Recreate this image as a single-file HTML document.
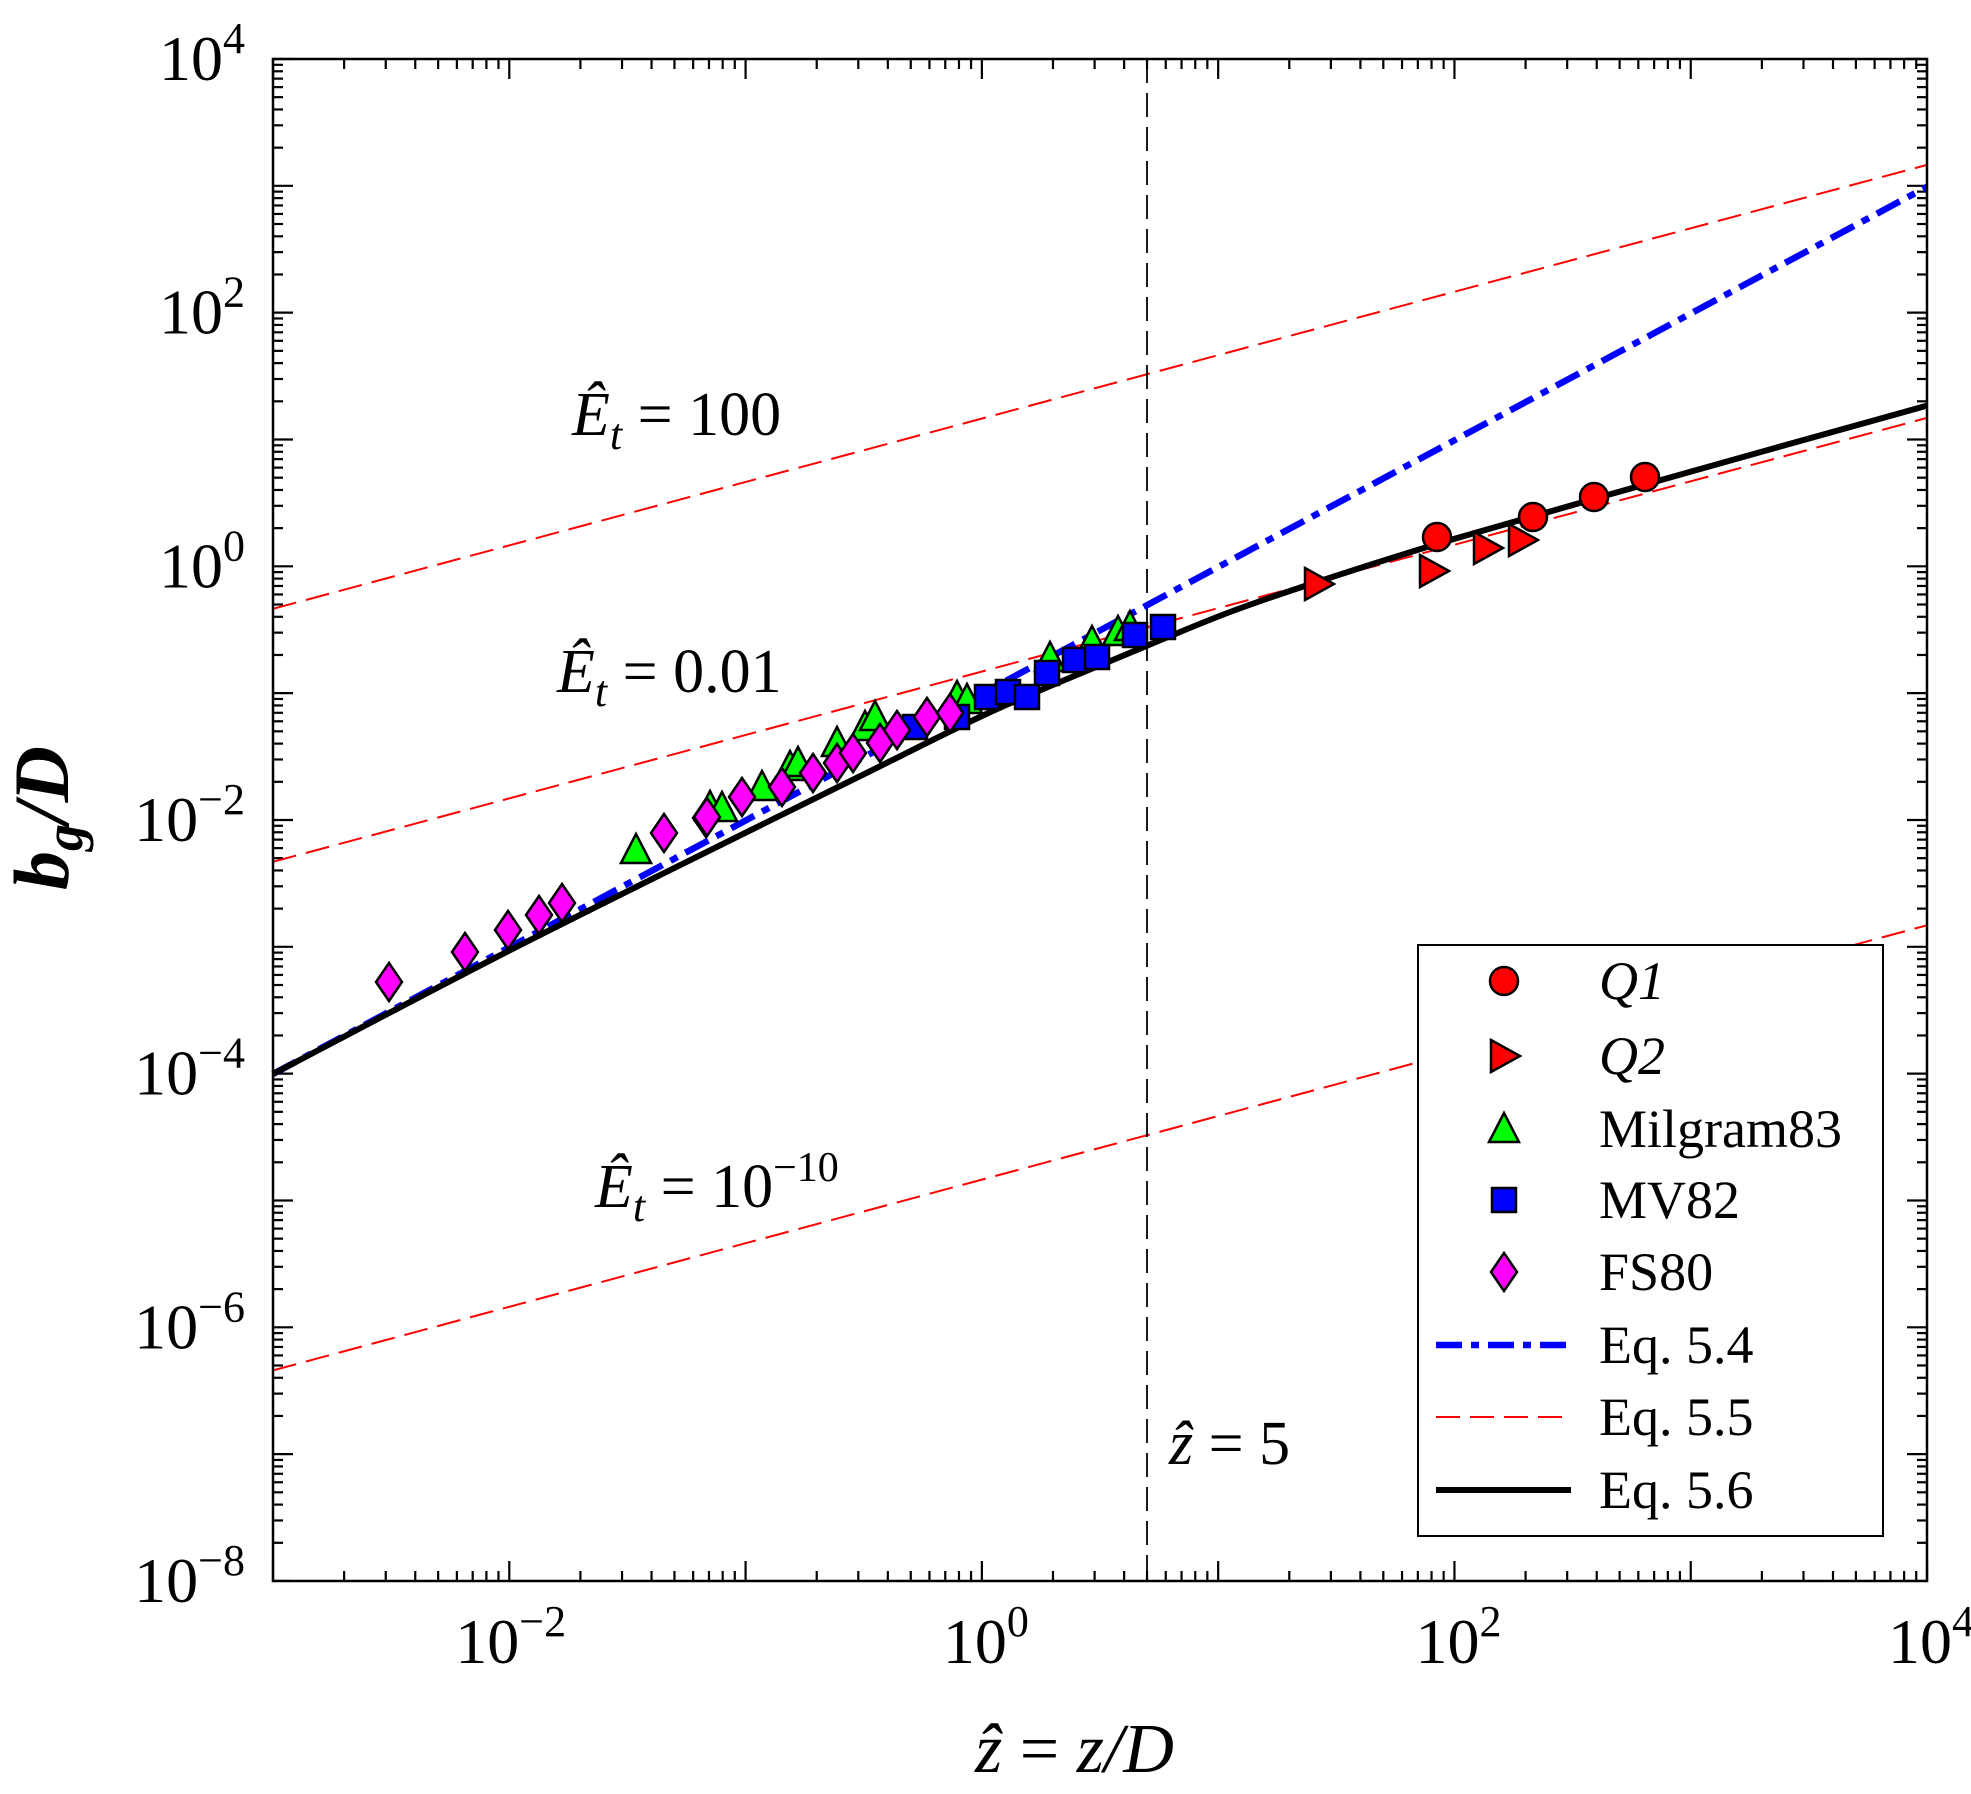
<!DOCTYPE html>
<html><head><meta charset="utf-8"><style>
html,body{margin:0;padding:0;background:#fff;}
svg{display:block;}
text{font-family:"Liberation Serif",serif;fill:#000;}
</style></head><body>
<svg id="s" width="1971" height="1794" viewBox="0 0 1971 1794" xmlns="http://www.w3.org/2000/svg">
<rect width="1971" height="1794" fill="#fff"/>
<g id="ticks" stroke="#000" stroke-width="2.2"></g>
<g stroke="#ff0000" stroke-width="2" stroke-dasharray="24,10" fill="none">
<line x1="273" y1="608.8" x2="1927" y2="164.9"/>
<line x1="273" y1="861.8" x2="1927" y2="417.9"/>
<line x1="273" y1="1370.4" x2="1927" y2="925.3"/>
</g>
<line x1="1147" y1="59" x2="1147" y2="1581" stroke="#000" stroke-width="1.8" stroke-dasharray="24,10"/>
<line x1="273" y1="1074" x2="1927" y2="186.8" stroke="#0000ff" stroke-width="6.5" stroke-dasharray="26,9,8,9"/>
<path id="blk" fill="none" stroke="#000" stroke-width="6"/>
<g id="mk" stroke="#000" stroke-width="2.5"></g>
<rect x="273" y="59" width="1654" height="1522" fill="none" stroke="#000" stroke-width="2.5"/>
<g id="lab" font-size="64"></g>
<text x="975" y="1772" font-size="70" font-style="italic">ẑ <tspan font-style="normal">=</tspan> z/D</text>
<text transform="translate(68,890) rotate(-90)" font-size="78" font-style="italic" font-weight="bold">b<tspan font-size="54" dy="14">g</tspan><tspan dy="-14">/D</tspan></text>
<text x="572" y="435" font-size="62" font-style="italic">Ê<tspan font-size="44" dy="14">t</tspan><tspan dy="-14" font-style="normal"> = 100</tspan></text>
<text x="557" y="692" font-size="62" font-style="italic">Ê<tspan font-size="44" dy="14">t</tspan><tspan dy="-14" font-style="normal"> = 0.01</tspan></text>
<text x="595" y="1207" font-size="62" font-style="italic">Ê<tspan font-size="44" dy="14">t</tspan><tspan dy="-14" font-style="normal"> = 10</tspan><tspan font-style="normal" font-size="42" dy="-26">−10</tspan></text>
<text x="1169" y="1464" font-size="62" font-style="italic">ẑ<tspan font-style="normal"> = 5</tspan></text>
<rect x="1418" y="945" width="465" height="591" fill="#fff" stroke="#000" stroke-width="2"/>
<g id="leg" font-size="54"></g>
</svg>
<script>
var NS="http://www.w3.org/2000/svg";
function X(l){return 273+236.29*(l+3);}
function Y(l){return 59+126.83*(4-l);}
function el(p,t,a,txt){var e=document.createElementNS(NS,t);for(var k in a)e.setAttribute(k,a[k]);if(txt!=null)e.textContent=txt;p.appendChild(e);return e;}
var tk=document.getElementById('ticks');
function ln(x1,y1,x2,y2){el(tk,'line',{x1:x1,y1:y1,x2:x2,y2:y2});}
for(var d=-3;d<=4;d++){for(var m=1;m<=9;m++){if(d==4&&m>1)break;
  var l=d+Math.log10(m),x=X(l),L=(m==1)?20:10;ln(x,1581,x,1581-L);ln(x,59,x,59+L);}}
for(var d=-8;d<=4;d++){for(var m=1;m<=9;m++){if(d==4&&m>1)break;
  var l=d+Math.log10(m),y=Y(l),L=(m==1)?20:10;ln(273,y,273+L,y);ln(1927,y,1927-L,y);}}
// smooth black curve (Catmull-Rom)
var P=[[273,1074],[509.3,950.6],[745.6,832.7],[863.8,774.3],[981.9,716],[1064.6,680],[1147.3,645.6],[1230,612],[1317.4,581.9],[1454.6,538.8],[1690.9,471.6],[1927,405.6]];
var dstr='M'+P[0][0]+','+P[0][1];
for(var i=0;i<P.length-1;i++){var p0=P[i-1]||P[i],p1=P[i],p2=P[i+1],p3=P[i+2]||P[i+1];
 var c1=[p1[0]+(p2[0]-p0[0])/6,p1[1]+(p2[1]-p0[1])/6],c2=[p2[0]-(p3[0]-p1[0])/6,p2[1]-(p3[1]-p1[1])/6];
 dstr+=' C'+c1+' '+c2+' '+p2;}
document.getElementById('blk').setAttribute('d',dstr);
var lab=document.getElementById('lab');
function tl(x,y,anchor,exp){var t=el(lab,'text',{x:x,y:y,'text-anchor':anchor});el(t,'tspan',{},'10');el(t,'tspan',{'font-size':'44',dy:'-27'},exp);}
[-8,-6,-4,-2,0,2,4].forEach(function(d){var e=d<0?'\u2212'+(-d):''+d;tl(245,Y(d)+21,'end',e);});
[-2,0,2,4].forEach(function(d){var e=d<0?'\u2212'+(-d):''+d;var w=d<0?100:78;tl(X(d)-w/2+(d<0?-4:0),1663,'start',e);});
var mk=document.getElementById('mk');
function circ(g,x,y){el(g,'circle',{cx:x,cy:y,r:14,fill:'#ff0000'});}
function rtri(g,x,y){el(g,'polygon',{points:(x-13)+','+(y-16)+' '+(x+16)+','+y+' '+(x-13)+','+(y+16),fill:'#ff0000'});}
function utri(g,x,y){el(g,'polygon',{points:(x-15)+','+(y+13)+' '+x+','+(y-16)+' '+(x+15)+','+(y+13),fill:'#00ff00'});}
function sq(g,x,y){el(g,'rect',{x:x-12,y:y-12,width:24,height:24,fill:'#0000ff'});}
function dia(g,x,y){el(g,'polygon',{points:x+','+(y-19)+' '+(x+13)+','+y+' '+x+','+(y+19)+' '+(x-13)+','+y,fill:'#ff00ff'});}
[[636,850],[710,807],[722,808],[762,787],[790,767],[798,763],[837,743],[865,727],[875,717],[957,697],[967,700],[1050,658],[1092,642],[1118,632],[1130,627]].forEach(function(p){utri(mk,p[0],p[1]);});
[[915,727],[957,717],[987,697],[1008,692],[1027,697],[1047,673],[1075,660],[1097,657],[1135,635],[1163,627]].forEach(function(p){sq(mk,p[0],p[1]);});
[[389,982],[465,952],[508,930],[539,915],[562,903],[664,833],[706,818],[707,817],[742,797],[782,787],[813,773],[837,763],[853,753],[880,743],[897,730],[927,717],[950,713]].forEach(function(p){dia(mk,p[0],p[1]);});
[[1318,584],[1433,571],[1487,548],[1522,540]].forEach(function(p){rtri(mk,p[0],p[1]);});
[[1437,537],[1533,517],[1594,497],[1645,477]].forEach(function(p){circ(mk,p[0],p[1]);});
var lg=document.getElementById('leg');
var ys=[981,1056,1129,1200,1272,1345,1417,1490];
circ(lg,1504,ys[0]);rtri(lg,1504,ys[1]);utri(lg,1504,ys[2]);sq(lg,1504,ys[3]);dia(lg,1504,ys[4]);
var g2=lg.querySelectorAll('*');for(var i=0;i<g2.length;i++){g2[i].setAttribute('stroke','#000');g2[i].setAttribute('stroke-width','2.5');}
el(lg,'line',{x1:1436,y1:ys[5],x2:1571,y2:ys[5],stroke:'#0000ff','stroke-width':6.5,'stroke-dasharray':'26,9,8,9'});
el(lg,'line',{x1:1436,y1:ys[6],x2:1571,y2:ys[6],stroke:'#ff0000','stroke-width':2,'stroke-dasharray':'24,10'});
el(lg,'line',{x1:1436,y1:ys[7],x2:1571,y2:ys[7],stroke:'#000','stroke-width':6});
var names=['Q1','Q2','Milgram83','MV82','FS80','Eq. 5.4','Eq. 5.5','Eq. 5.6'];
names.forEach(function(n,i){var a={x:1599,y:ys[i]+18};if(i<2)a['font-style']='italic';el(lg,'text',a,n);});
</script>
</body></html>
